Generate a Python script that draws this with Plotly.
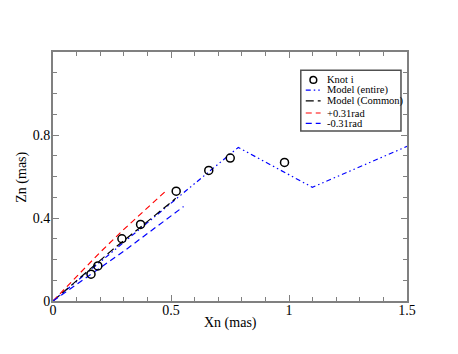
import plotly.graph_objects as go

# knots
knot_x = [0.161, 0.190, 0.292, 0.371, 0.522, 0.660, 0.751, 0.981]
knot_z = [0.129, 0.169, 0.300, 0.369, 0.529, 0.629, 0.689, 0.668]

# model (entire)
ent_x = [0.0, 0.785, 1.099, 1.5]
ent_z = [0.0, 0.740, 0.548, 0.745]

# model (common)
com_x = [0.0, 0.25, 0.504, 0.52]
com_z = [0.0, 0.245, 0.479, 0.495]

# +0.31rad
plus_x = [0.0, 0.1, 0.2, 0.3, 0.4, 0.475]
plus_z = [0.0, 0.12, 0.235, 0.345, 0.45, 0.527]

# -0.31rad
minus_x = [0.0, 0.2, 0.306, 0.4, 0.553]
minus_z = [0.0, 0.16, 0.245, 0.325, 0.455]

x_ticks = [0, 0.5, 1, 1.5]
x_labels = ['0', '0.5', '1', '1.5']
y_ticks = [0, 0.4, 0.8]
y_labels = ['0', '0.4', '0.8']

SERIF = 'Liberation Serif, Times New Roman, serif'
GREY = '#808080'

DASH_ENT = '5px,3px,1.5px,3px,1.5px,3px'
DASH_COM = '8px,4px'
DASH_RAD = '6px,4px'

fig = go.Figure()
fig.add_trace(go.Scatter(x=ent_x, y=ent_z, mode='lines', name='Model (entire)',
                         line=dict(color='blue', width=1.2, dash=DASH_ENT)))
fig.add_trace(go.Scatter(x=com_x, y=com_z, mode='lines', name='Model (Common)',
                         line=dict(color='black', width=1.2, dash=DASH_COM)))
fig.add_trace(go.Scatter(x=plus_x, y=plus_z, mode='lines', name='+0.31rad',
                         line=dict(color='red', width=1.2, dash=DASH_RAD)))
fig.add_trace(go.Scatter(x=minus_x, y=minus_z, mode='lines', name='-0.31rad',
                         line=dict(color='blue', width=1.2, dash=DASH_RAD)))
fig.add_trace(go.Scatter(x=knot_x, y=knot_z, mode='markers', name='Knot i',
                         marker=dict(symbol='circle-open', size=8, color='black',
                                     line=dict(width=1.5, color='black'))))

axis_common = dict(showline=True, linecolor=GREY, linewidth=2, mirror='allticks',
                   ticks='inside', ticklen=6, tickcolor=GREY, tickwidth=1,
                   showgrid=False, zeroline=False, automargin=False,
                   tickfont=dict(family=SERIF, size=14, color='black'),
                   minor=dict(ticks='inside', ticklen=4, dtick=0.1, tick0=0,
                              tickcolor=GREY, showgrid=False))

fig.update_xaxes(range=[0, 1.5], tickvals=x_ticks, ticktext=x_labels,
                 ticklabelstandoff=-5, **axis_common)
fig.update_yaxes(range=[0, 1.2], tickvals=y_ticks, ticktext=y_labels,
                 ticklabelstandoff=-2, **axis_common)

# hand-drawn legend box (paper coords = plot area fractions)
lx0, lx1, ly0, ly1 = 0.700, 0.983, 0.683, 0.927
shapes = [dict(type='rect', xref='paper', yref='paper', x0=lx0, x1=lx1, y0=ly0, y1=ly1,
               line=dict(color='#505050', width=1.5), fillcolor='white', layer='above')]
annotations = []
rows = [0.888, 0.847, 0.804, 0.755, 0.713]
entries = [('Knot i', None, None),
           ('Model (entire)', 'blue', DASH_ENT),
           ('Model (Common)', 'black', DASH_COM),
           ('+0.31rad', 'red', DASH_RAD),
           ('-0.31rad', 'blue', DASH_RAD)]
for yy, (label, col, dash) in zip(rows, entries):
    if col is None:
        shapes.append(dict(type='circle', xref='paper', yref='paper',
                           x0=0.7355 - 0.0095, x1=0.7355 + 0.0095,
                           y0=yy - 0.0135, y1=yy + 0.0135,
                           line=dict(color='black', width=1.5), layer='above'))
    else:
        shapes.append(dict(type='line', xref='paper', yref='paper',
                           x0=0.714, x1=0.756, y0=yy, y1=yy,
                           line=dict(color=col, width=1.2, dash=dash), layer='above'))
    annotations.append(dict(text=label, xref='paper', yref='paper', x=0.771, y=yy,
                            xanchor='left', yanchor='middle', showarrow=False,
                            borderpad=0,
                            font=dict(family=SERIF, size=10.5, color='black')))

annotations.append(dict(text='Xn (mas)', xref='paper', yref='paper', x=0.5, y=-0.09,
                        xanchor='center', yanchor='middle', showarrow=False,
                        font=dict(family=SERIF, size=14, color='black')))
annotations.append(dict(text='Zn (mas)', xref='paper', yref='paper', x=-0.087, y=0.496,
                        xanchor='center', yanchor='middle', showarrow=False, textangle=-90,
                        font=dict(family=SERIF, size=14, color='black')))

# page body has an 8px margin, so shrink the figure and its margins to keep the plot area in place
fig.update_layout(
    width=450, height=346,
    margin=dict(l=45, r=51, t=44, b=53),
    paper_bgcolor='white', plot_bgcolor='white',
    showlegend=False,
    shapes=shapes,
    annotations=annotations,
)

fig.write_html("out.html")
